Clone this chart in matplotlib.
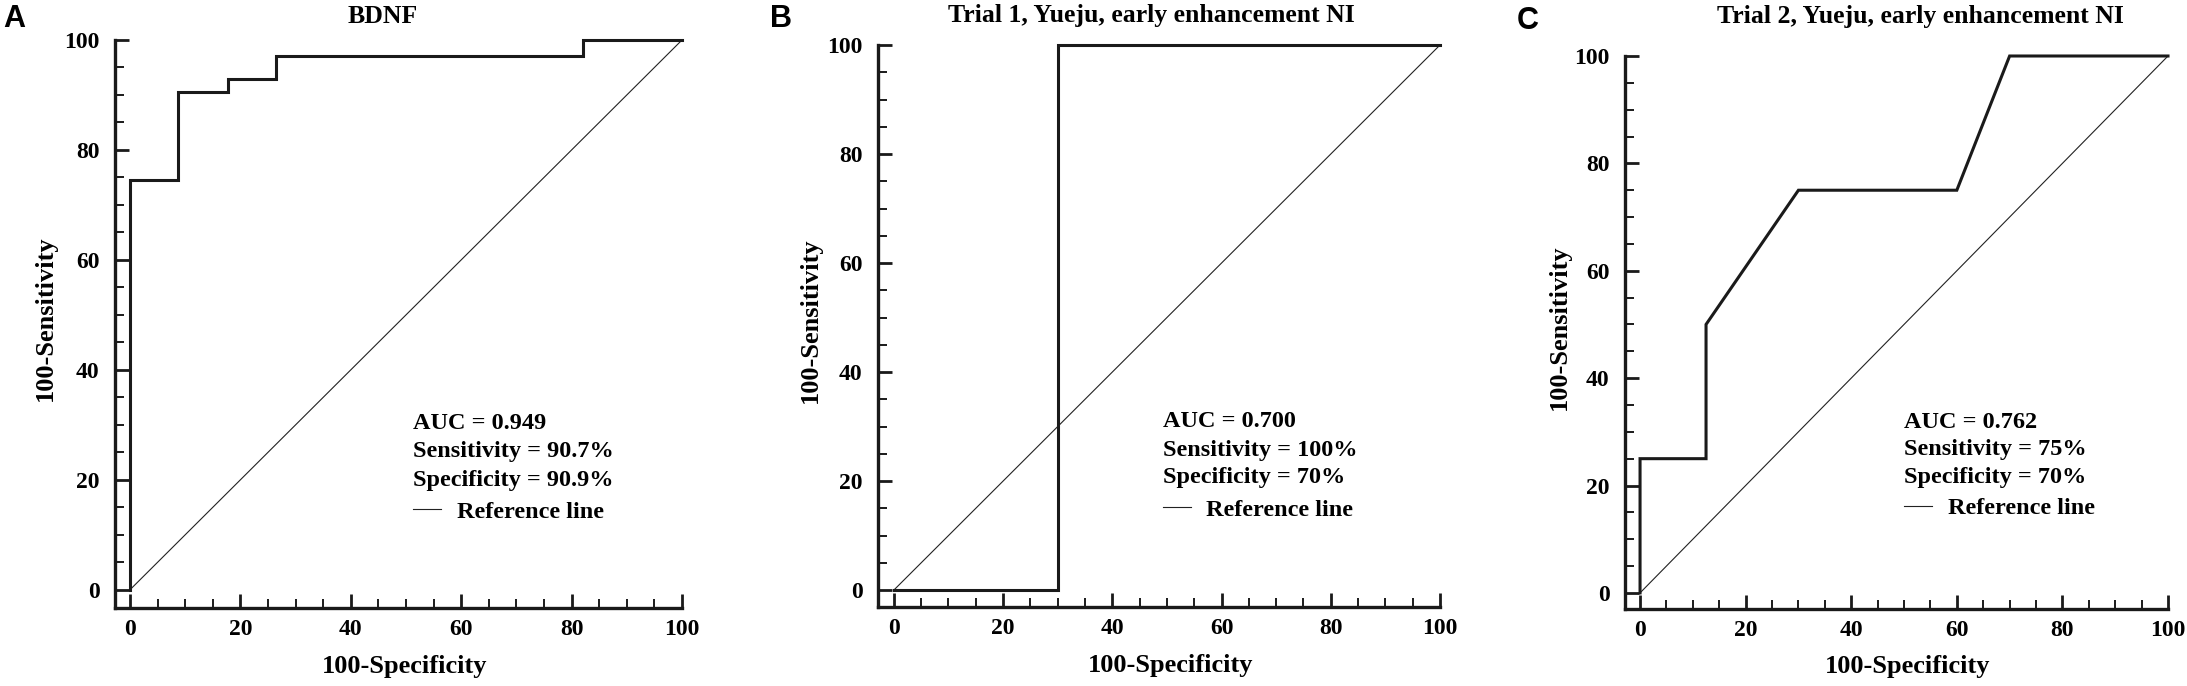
import matplotlib
matplotlib.use("Agg")
import matplotlib.pyplot as plt
from matplotlib.ticker import MultipleLocator

plt.rcParams['font.family'] = ['Liberation Serif', 'DejaVu Serif']
plt.rcParams['font.weight'] = 'bold'

# ROC points (100-Specificity, Sensitivity)
fpr_a = [0, 0, 8.8, 8.8, 17.8, 17.8, 26.4, 26.4, 82, 82, 100]
tpr_a = [0, 74.5, 74.5, 90.5, 90.5, 92.9, 92.9, 97.1, 97.1, 100, 100]
fpr_b = [0, 30, 30, 100]
tpr_b = [0, 0, 100, 100]
fpr_c = [0, 0, 12.5, 12.5, 30, 60, 70, 100]
tpr_c = [0, 25, 25, 50, 75, 75, 100, 100]

titles = ["BDNF", "Trial 1, Yueju, early enhancement NI", "Trial 2, Yueju, early enhancement NI"]
letters = ["A", "B", "C"]
auc = ["0.949", "0.700", "0.762"]
sens = ["90.7%", "100%", "75%"]
spec = ["90.9%", "70%", "70%"]

W, H = 2187, 686
fig = plt.figure(figsize=(W / 100, H / 100), dpi=100)

# pixel boxes: left, right, top, bottom ; xlim low, ylim low
boxes = [(115, 682, 40, 608, -2.7, -3.3),
         (878, 1440, 45, 607, -2.9, -3.1),
         (1625, 2168, 56, 609, -2.85, -3.0)]
# annotation x and baselines (data), reference line y
notes = [(51.3, [29.3, 24.2, 18.9], 14.2),
         (49.2, [29.9, 24.6, 19.6], 14.7),
         (50.0, [30.7, 25.7, 20.5], 15.8)]
title_pos = [(383, 23), (1151, 22), (1920, 23)]
letter_pos = [(14, 19), (781, 19), (1528, 21)]
ylab_x = [-0.102, -0.0996, -0.0994]
xlab_x = [0.511, 0.52, 0.521]

data = [(fpr_a, tpr_a), (fpr_b, tpr_b), (fpr_c, tpr_c)]

for i in range(3):
    l, r, t, b, x0, y0 = boxes[i]
    ax = fig.add_axes([l / W, 1 - b / H, (r - l) / W, (b - t) / H])
    fx, ty = data[i]
    ax.plot(fx, ty, color='#1a1a1a', lw=2.2, clip_on=False, solid_joinstyle='miter', zorder=3)
    ref, = ax.plot([0, 100], [0, 100], color='#222222', lw=0.8, clip_on=False)
    ax.set_xlim(x0, 100)
    ax.set_ylim(y0, 100)
    for s in ['top', 'right']:
        ax.spines[s].set_visible(False)
    for s in ['left', 'bottom']:
        ax.spines[s].set_linewidth(2.4)
        ax.spines[s].set_color('#1a1a1a')
    ax.xaxis.set_major_locator(MultipleLocator(20))
    ax.yaxis.set_major_locator(MultipleLocator(20))
    ax.xaxis.set_minor_locator(MultipleLocator(5))
    ax.yaxis.set_minor_locator(MultipleLocator(5))
    ax.tick_params(which='major', direction='in', length=10, width=2, labelsize=17, color='#1a1a1a')
    ax.tick_params(which='minor', direction='in', length=6.5, width=1.4, color='#1a1a1a')
    ax.tick_params(axis='x', which='major', pad=8)
    ax.tick_params(axis='y', which='major', pad=11)
    ax.set_xlabel("100-Specificity", fontsize=19, fontweight='bold')
    ax.set_ylabel("100-Sensitivity", fontsize=19, fontweight='bold')
    ax.xaxis.set_label_coords(xlab_x[i], -0.083)
    ax.yaxis.set_label_coords(ylab_x[i], 0.51)

    nx, bases, ry = notes[i]
    lines = ["AUC = " + auc[i], "Sensitivity = " + sens[i], "Specificity = " + spec[i]]
    for txt, yb in zip(lines, bases):
        ax.text(nx, yb, txt, fontsize=17.5, fontweight='bold', va='baseline', ha='left')
    ax.legend([ref], ["Reference line"], loc='center left', bbox_to_anchor=(nx, ry),
              bbox_transform=ax.transData, frameon=False, borderpad=0, borderaxespad=0,
              handlelength=1.15, handletextpad=0.65, prop={'size': 17.5, 'weight': 'bold'})

    tx, tyy = title_pos[i]
    fig.text(tx / W, 1 - tyy / H, titles[i], fontsize=18.5, fontweight='bold', ha='center', va='baseline')
    lx, lyy = letter_pos[i]
    fig.text(lx / W, 1 - lyy / H, letters[i], fontsize=22, fontweight='bold', ha='center', va='center',
             family=['Liberation Sans', 'DejaVu Sans'])

fig.savefig("out.png", dpi=100)
